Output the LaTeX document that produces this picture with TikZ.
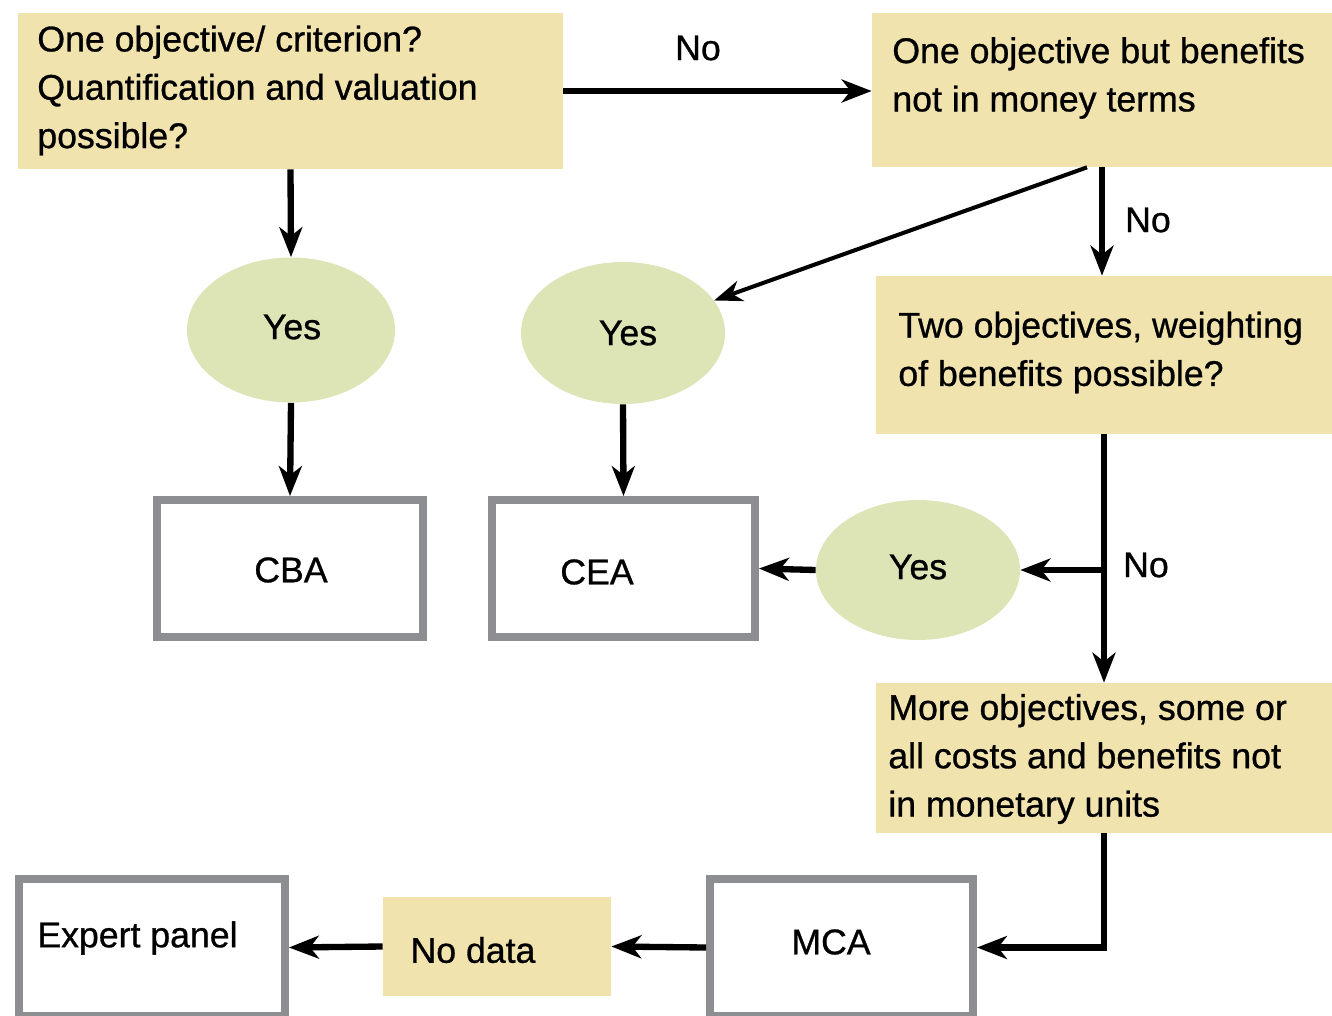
\documentclass[tikz,border=0pt]{standalone}
\usepackage{fontspec}
\setmainfont{Liberation Sans}
\newfontfamily\flowfont[FakeBold=0.8]{Liberation Sans}
\usepackage{tikz}
\usetikzlibrary{shapes,arrows.meta}
\definecolor{tan}{RGB}{240,227,174}
\definecolor{sage}{RGB}{221,229,183}
\definecolor{frame}{RGB}{140,142,146}

\begin{document}
\begin{tikzpicture}[inner sep=0mm,
  tanbox/.style={rectangle,fill=tan},
  grey box/.style={rectangle,draw=frame,line width=4.5pt,fill=white},
  yesnode/.style={ellipse,fill=sage},
  txt/.style={font=\flowfont\fontsize{20.3}{27.5}\selectfont,align=left},
  flow/.style={line width=3.6pt,-{Stealth[length=17pt,width=13pt,inset=5pt]}},
  thinflow/.style={line width=2.3pt,-{Stealth[length=16pt,width=12pt,inset=5pt]}}]
\useasboundingbox (0,0) rectangle (26.64,-20.32);
%Node Coordinates
\node at (5.81,-1.82) [tanbox,minimum width=10.9cm,minimum height=3.12cm] (Q1) {};
\node at (22.04,-1.80) [tanbox,minimum width=9.2cm,minimum height=3.08cm] (B2) {};
\node at (22.08,-7.10) [tanbox,minimum width=9.12cm,minimum height=3.16cm] (B3) {};
\node at (22.08,-15.16) [tanbox,minimum width=9.12cm,minimum height=3.0cm] (B4) {};
\node at (9.94,-18.93) [tanbox,minimum width=4.56cm,minimum height=1.98cm] (NoData) {};
\node at (5.82,-6.60) [yesnode,minimum width=4.16cm,minimum height=2.9cm] (Yes1) {};
\node at (12.46,-6.66) [yesnode,minimum width=4.08cm,minimum height=2.84cm] (Yes2) {};
\node at (18.36,-11.40) [yesnode,minimum width=4.08cm,minimum height=2.8cm] (Yes3) {};
\node at (5.80,-11.37) [grey box,minimum width=5.32cm,minimum height=2.74cm] (CBA) {};
\node at (12.47,-11.37) [grey box,minimum width=5.26cm,minimum height=2.74cm] (CEA) {};
\node at (16.83,-18.95) [grey box,minimum width=5.26cm,minimum height=2.74cm] (MCA) {};
\node at (3.04,-18.95) [grey box,minimum width=5.32cm,minimum height=2.74cm] (Expert) {};
\coordinate (Split) at (B3.south |- Yes3.east);
%Node Labels
\node [txt,anchor=west] at (0.74,-1.81) (Q1text) {One objective/ criterion?\\Quantification and valuation\\possible?};
\node [txt,anchor=west] at (17.84,-1.56) (B2text) {One objective but benefits\\not in money terms};
\node [txt,anchor=west] at (17.96,-7.05) (B3text) {Two objectives, weighting\\of benefits possible?};
\node [txt,anchor=west] at (17.76,-15.18) (B4text) {More objectives, some or\\all costs and benefits not\\in monetary units};
\node [txt] at (9.46,-19.00) (NoDatatext) {No data};
\node [txt,anchor=west] at (0.74,-18.76) (Experttext) {Expert panel};
\node [txt] at (16.62,-18.84) (MCAtext) {MCA};
\node [txt] at (5.82,-11.40) (CBAtext) {CBA};
\node [txt] at (11.94,-11.44) (CEAtext) {CEA};
\node [txt] at (5.84,-6.54) (Yes1text) {Yes};
\node [txt] at (12.56,-6.66) (Yes2text) {Yes};
\node [txt] at (18.36,-11.34) (Yes3text) {Yes};
\node [txt] at (13.96,-0.96) (No1) {No};
\node [txt] at (22.96,-4.40) (No2) {No};
\node [txt] at (22.92,-11.30) (No3) {No};
%Connections
\draw [flow] (Q1.east) -- (Q1.east -| B2.west);
\draw [flow] (Q1.south) -- (Yes1.north);
\draw [flow] (Yes1.south) -- (CBA.north);
\draw [thinflow] ([xshift=-0.3cm]B2.south) -- (Yes2);
\draw [flow] (Yes2.south) -- (CEA.north);
\draw [flow] (B2.south) -- (B2.south |- B3.north);
\draw [flow] (B3.south) -- (B3.south |- B4.north);
\draw [flow] (Split) -- (Yes3.east);
\draw [flow] (Yes3.west) -- (CEA.east);
\draw [flow] (B4.south) |- (MCA.east);
\draw [flow] (MCA.west) -- (NoData.east);
\draw [flow] (NoData.west) -- (Expert.east);
\end{tikzpicture}
\end{document}
